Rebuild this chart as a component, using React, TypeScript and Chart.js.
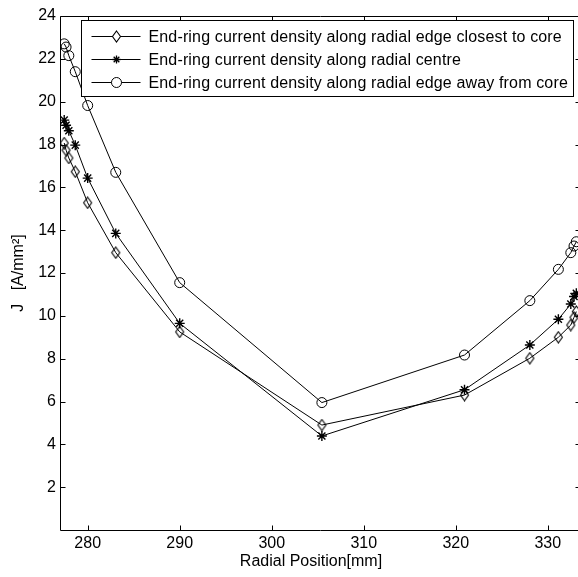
import React, { useEffect, useRef } from 'react';
import { Chart, registerables } from 'chart.js';

Chart.register(...registerables);

// ---- data ----
const radialPositions = [277.45, 277.65, 277.95, 278.65, 280.0, 283.05, 290.0, 305.45, 320.95, 328.05, 331.15, 332.5, 332.85, 333.1];
const closestToCore = [18.07, 17.74, 17.37, 16.73, 15.28, 12.95, 9.25, 4.9, 6.3, 8.02, 9.0, 9.57, 9.93, 10.2];
const radialCentre = [19.14, 18.9, 18.64, 17.97, 16.43, 13.85, 9.65, 4.39, 6.55, 8.64, 9.84, 10.55, 10.9, 11.05];
const awayFromCore = [22.7, 22.55, 22.15, 21.4, 19.82, 16.7, 11.55, 5.95, 8.17, 10.71, 12.17, 12.95, 13.26, 13.46];
const seriesLabels = [
  'End-ring current density along radial edge closest to core',
  'End-ring current density along radial centre',
  'End-ring current density along radial edge away from core',
];
const xTicks = [280, 290, 300, 310, 320, 330];
const yTicks = [2, 4, 6, 8, 10, 12, 14, 16, 18, 20, 22, 24];
const xTitle = 'Radial Position[mm]';
const yTitle = 'J   [A/mm\u00B2]';

const FONT = '"Liberation Sans", Arial, sans-serif';

function makeDiamond(): HTMLCanvasElement {
  const c = document.createElement('canvas');
  c.width = 11;
  c.height = 13;
  const g = c.getContext('2d')!;
  g.strokeStyle = '#000';
  g.lineWidth = 1.1;
  g.beginPath();
  g.moveTo(5.5, 1);
  g.lineTo(9.5, 6.5);
  g.lineTo(5.5, 12);
  g.lineTo(1.5, 6.5);
  g.closePath();
  g.stroke();
  return c;
}

function drawMarker(ctx: CanvasRenderingContext2D, kind: string, x: number, y: number, diamond: HTMLCanvasElement) {
  ctx.save();
  ctx.strokeStyle = '#000';
  ctx.lineWidth = 1;
  if (kind === 'diamond') {
    ctx.fillStyle = '#fff';
    ctx.beginPath();
    ctx.moveTo(x, y - 5.5);
    ctx.lineTo(x + 4, y);
    ctx.lineTo(x, y + 5.5);
    ctx.lineTo(x - 4, y);
    ctx.closePath();
    ctx.fill();
    ctx.drawImage(diamond, Math.round(x - 5.5), Math.round(y - 6.5));
  } else if (kind === 'star') {
    const r = 4;
    ctx.lineWidth = 1.3;
    ctx.beginPath();
    ctx.moveTo(x - r, y); ctx.lineTo(x + r, y);
    ctx.moveTo(x, y - r); ctx.lineTo(x, y + r);
    const d = r * Math.SQRT1_2;
    ctx.moveTo(x - d, y - d); ctx.lineTo(x + d, y + d);
    ctx.moveTo(x - d, y + d); ctx.lineTo(x + d, y - d);
    ctx.stroke();
  } else {
    ctx.fillStyle = '#fff';
    ctx.beginPath();
    ctx.arc(x, y, 5, 0, Math.PI * 2);
    ctx.fill();
    ctx.stroke();
  }
  ctx.restore();
}

export default function App() {
  const ref = useRef<HTMLCanvasElement | null>(null);

  useEffect(() => {
    document.body.style.margin = '0';
    document.body.style.overflow = 'hidden';
    const canvas = ref.current!;
    const diamond = makeDiamond();
    const markerKinds = ['diamond', 'star', 'circle'];

    const framePlugin = {
      id: 'frame',
      afterDatasetsDraw(chart: any) {
        const { ctx, chartArea } = chart;
        const { left, right, top, bottom } = chartArea;
        const xs = chart.scales.x;
        const ys = chart.scales.y;
        const L = Math.floor(left) - 0.5;
        const R = Math.floor(right) + 0.5;
        const T = Math.floor(top) + 0.5;
        const B = Math.floor(bottom) + 0.5;
        ctx.save();
        ctx.strokeStyle = '#000';
        ctx.lineWidth = 1;
        ctx.beginPath();
        ctx.moveTo(L, T); ctx.lineTo(R, T); ctx.lineTo(R, B); ctx.lineTo(L, B); ctx.closePath();
        const tl = 5;
        xTicks.forEach((v) => {
          const px = Math.round(xs.getPixelForValue(v)) + 0.5;
          ctx.moveTo(px, B); ctx.lineTo(px, B - tl);
          ctx.moveTo(px, T); ctx.lineTo(px, T + tl);
        });
        yTicks.forEach((v) => {
          const py = Math.round(ys.getPixelForValue(v)) + 0.5;
          ctx.moveTo(L, py); ctx.lineTo(L + tl, py);
          ctx.moveTo(R, py); ctx.lineTo(R - tl, py);
        });
        ctx.stroke();
        // x axis title
        ctx.fillStyle = '#000';
        ctx.font = '16px ' + FONT;
        ctx.textAlign = 'center';
        ctx.textBaseline = 'middle';
        ctx.fillText(xTitle, left + 250, 562);
        ctx.restore();
      },
    };

    const legendPlugin = {
      id: 'boxLegend',
      afterDraw(chart: any) {
        const { ctx, chartArea } = chart;
        const bx = Math.floor(chartArea.left) + 20.5;
        const by = Math.floor(chartArea.top) + 4.5;
        const bw = 492;
        const bh = 76;
        ctx.save();
        ctx.fillStyle = '#fff';
        ctx.fillRect(bx, by, bw, bh);
        ctx.strokeStyle = '#000';
        ctx.lineWidth = 1;
        ctx.strokeRect(bx, by, bw, bh);
        ctx.font = '16px ' + FONT;
        ctx.textAlign = 'left';
        ctx.textBaseline = 'middle';
        (ctx as any).letterSpacing = '0.15px';
        seriesLabels.forEach((label, i) => {
          const ry = Math.round(by + 15 + i * 23) + 0.5;
          ctx.beginPath();
          ctx.moveTo(bx + 10, ry);
          ctx.lineTo(bx + 59, ry);
          ctx.strokeStyle = '#000';
          ctx.stroke();
          drawMarker(ctx, markerKinds[i], bx + 35, ry, diamond);
          ctx.fillStyle = '#000';
          ctx.fillText(label, bx + 67, ry + 1);
        });
        ctx.restore();
      },
    };

    const mk = (data: number[]) => radialPositions.map((x, i) => ({ x, y: data[i] }));

    const chart = new Chart(canvas, {
      type: 'line',
      data: {
        datasets: [
          {
            label: seriesLabels[0],
            data: mk(closestToCore),
            borderColor: '#000',
            borderWidth: 1,
            pointStyle: diamond as any,
            pointRadius: 5,
            pointBackgroundColor: 'rgba(0,0,0,0)',
            pointBorderColor: '#000',
            tension: 0,
          },
          {
            label: seriesLabels[1],
            data: mk(radialCentre),
            borderColor: '#000',
            borderWidth: 1,
            pointStyle: 'star',
            pointRadius: 5,
            pointBorderWidth: 1.4,
            pointBackgroundColor: 'rgba(0,0,0,0)',
            pointBorderColor: '#000',
            tension: 0,
          },
          {
            label: seriesLabels[2],
            data: mk(awayFromCore),
            borderColor: '#000',
            borderWidth: 1,
            pointStyle: 'circle',
            pointRadius: 5,
            pointBorderWidth: 1,
            pointBackgroundColor: 'rgba(0,0,0,0)',
            pointBorderColor: '#000',
            tension: 0,
          },
        ],
      },
      options: {
        animation: false,
        responsive: false,
        maintainAspectRatio: false,
        events: [],
        layout: { padding: { top: 16, right: 10, bottom: 0, left: 0 } },
        plugins: {
          legend: { display: false },
          tooltip: { enabled: false },
        },
        scales: {
          x: {
            type: 'linear',
            min: 277.1,
            max: 333.5,
            grid: { display: false, drawTicks: false },
            border: { display: false },
            ticks: {
              stepSize: 10,
              includeBounds: false,
              autoSkip: false,
              maxRotation: 0,
              padding: 4,
              color: '#000',
              font: { family: FONT, size: 16 },
            },
            afterFit: (s: any) => { s.height = 47; },
          },
          y: {
            type: 'linear',
            min: 0,
            max: 24,
            grid: { display: false, drawTicks: false },
            border: { display: false },
            ticks: {
              stepSize: 2,
              includeBounds: false,
              padding: 5,
              color: '#000',
              font: { family: FONT, size: 16 },
              callback: (v: any) => (v === 0 ? '' : String(v)),
            },
            title: {
              display: true,
              text: yTitle,
              color: '#000',
              font: { family: FONT, size: 16 },
              padding: { top: 9, bottom: 0 },
            },
            afterFit: (s: any) => { s.width = 61; },
          },
        },
      },
      plugins: [framePlugin, legendPlugin],
    });
    return () => chart.destroy();
  }, []);

  return (
    <div style={{ width: 578, height: 577, overflow: 'hidden', background: '#fff' }}>
      <canvas ref={ref} width={590} height={577} style={{ width: 590, height: 577, display: 'block' }} />
    </div>
  );
}
